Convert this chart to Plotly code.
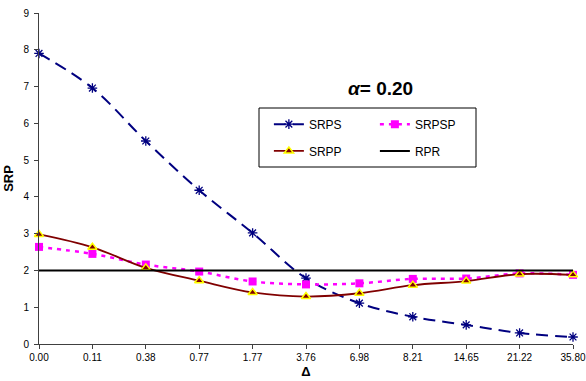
import plotly.graph_objects as go

# Category labels for the Δ axis
delta_labels = ["0.00", "0.11", "0.38", "0.77", "1.77", "3.76",
                "6.98", "8.21", "14.65", "21.22", "35.80"]

# Series values
srps = [7.90, 6.96, 5.52, 4.18, 3.02, 1.79, 1.11, 0.74, 0.52, 0.30, 0.19]
srpsp = [2.64, 2.45, 2.16, 1.97, 1.70, 1.62, 1.65, 1.77, 1.78, 1.92, 1.88]
srpp = [2.98, 2.63, 2.07, 1.72, 1.40, 1.29, 1.38, 1.60, 1.71, 1.90, 1.88]
rpr = [2.0] * len(delta_labels)

font_family = "Liberation Sans, Arial, sans-serif"

fig = go.Figure()

fig.add_trace(go.Scatter(
    x=delta_labels, y=srps, name="SRPS", mode="lines+markers",
    line=dict(color="#000080", width=2, dash="12px,7px", shape="spline"),
    marker=dict(symbol="asterisk-open", size=8,
                line=dict(color="#000080", width=1.3)),
    cliponaxis=False, legend="legend"))

fig.add_trace(go.Scatter(
    x=delta_labels, y=srpsp, name="SRPSP", mode="lines+markers",
    line=dict(color="#FF00FF", width=2.5, dash="4px,5px", shape="spline"),
    marker=dict(symbol="square", size=8, color="#FF00FF"),
    cliponaxis=False, legend="legend"))

fig.add_trace(go.Scatter(
    x=delta_labels, y=srpp, name="SRPP", mode="lines+markers",
    line=dict(color="#800000", width=1.8, shape="spline"),
    marker=dict(symbol="triangle-up", size=8, color="#800000",
                line=dict(color="#FFFF00", width=1.5)),
    cliponaxis=False, legend="legend2"))

fig.add_trace(go.Scatter(
    x=delta_labels, y=rpr, name="RPR", mode="lines",
    line=dict(color="#000000", width=2),
    cliponaxis=False, legend="legend2"))

legend_common = dict(
    orientation="h", xanchor="left", yanchor="top",
    bgcolor="rgba(0,0,0,0)", borderwidth=0,
    font=dict(family=font_family, size=12, color="#000000"),
    entrywidth=61, entrywidthmode="pixels", traceorder="normal",
)

fig.update_layout(
    width=586, height=381,
    margin=dict(l=39, r=13, t=13, b=37, autoexpand=False),
    paper_bgcolor="white", plot_bgcolor="white",
    font=dict(family=font_family, size=10, color="#000000"),
    showlegend=True,
    legend=dict(x=0.4305, y=0.708, **legend_common),
    legend2=dict(x=0.4305, y=0.627, **legend_common),
    xaxis=dict(
        type="category", range=[0, 10], automargin=False,
        showline=True, linecolor="#404040", linewidth=1,
        ticks="outside", ticklen=4, tickcolor="#404040",
        showgrid=False, zeroline=False,
        tickfont=dict(size=10, family=font_family),
        title=dict(text="<b>Δ</b>", font=dict(size=13, family=font_family),
                   standoff=4),
    ),
    yaxis=dict(
        range=[0, 9], dtick=1, tick0=0, automargin=False,
        showline=True, linecolor="#404040", linewidth=1,
        ticks="outside", ticklen=4, tickcolor="#404040",
        ticklabelstandoff=3,
        showgrid=False, zeroline=False,
        tickfont=dict(size=10, family=font_family),
        title=dict(text="<b>SRP</b>", font=dict(size=13, family=font_family),
                   standoff=6),
    ),
    shapes=[dict(type="rect", xref="paper", yref="paper",
                 x0=(259 - 39) / 534, x1=(476 - 39) / 534,
                 y0=(344 - 167) / 331, y1=(344 - 108) / 331,
                 line=dict(color="#000000", width=1),
                 fillcolor="rgba(0,0,0,0)")],
    annotations=[dict(
        x=(380 - 39) / 534, y=(344 - 89) / 331, xref="paper", yref="paper",
        xanchor="center", yanchor="middle",
        text="<b><i>α</i>= 0.20</b>", showarrow=False,
        font=dict(size=19, family=font_family, color="#000000"))],
)

fig.write_html("out.html")
